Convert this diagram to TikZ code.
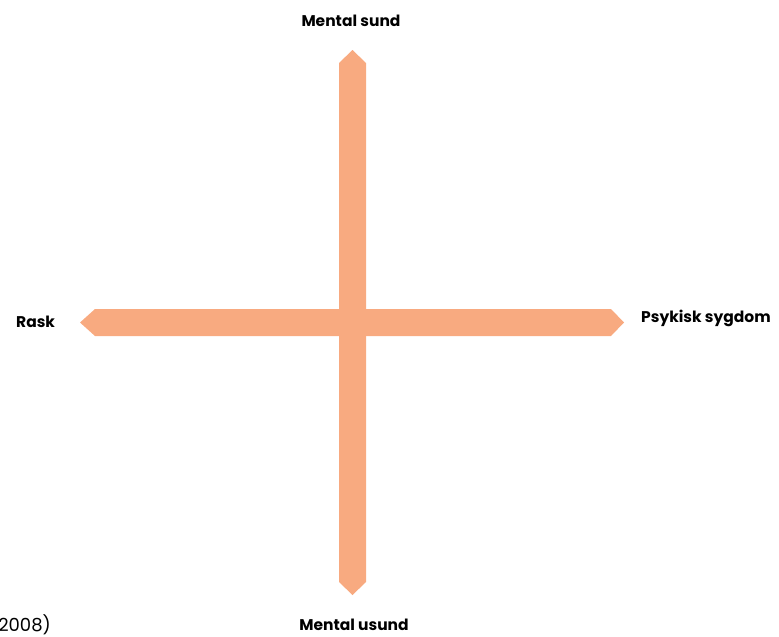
\documentclass[tikz,border=0pt]{standalone}
\usepackage{fontspec}
\setmainfont{Poppins}
\definecolor{barc}{HTML}{F8AA80}
\begin{document}
\begin{tikzpicture}[x=1pt,y=-1pt,
  lbl/.style={font=\fontsize{15.5}{17}\selectfont\bfseries, text=black, inner sep=0pt},
  src/.style={font=\fontsize{18}{20}\selectfont, text=black, inner sep=0pt}]
\useasboundingbox (0,0) rectangle (779,637);
% vertical double arrow
\fill[barc] (352.5,50) -- (366,63) -- (366,582) -- (352.5,595) -- (339,582) -- (339,63) -- cycle;
% horizontal double arrow
\fill[barc] (80,322.5) -- (95,309) -- (611,309) -- (624,322.5) -- (611,336) -- (95,336) -- cycle;
\node[lbl] (top) at (351,21) {Mental sund};
\node[lbl] (bot) at (354,625) {Mental usund};
\node[lbl, anchor=west] (left) at (16,322) {Rask};
\node[lbl, anchor=west] (right) at (641,318) {Psykisk sygdom};
\node[src, anchor=east] (source) at (51,625) {(2008)};
\end{tikzpicture}
\end{document}
